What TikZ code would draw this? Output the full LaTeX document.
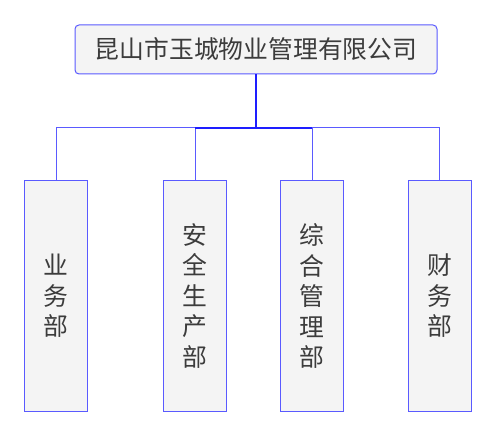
\documentclass[tikz,border=0pt]{standalone}
\usepackage{fontspec}
\setmainfont{Noto Sans CJK SC}
\definecolor{boxedge}{RGB}{90,90,255}
\definecolor{trunkblue}{RGB}{30,30,255}
\definecolor{boxfill}{RGB}{244,244,244}
\definecolor{boxtext}{RGB}{60,60,60}
\begin{document}
\begin{tikzpicture}[x=1pt,y=1pt,
    unit/.style={draw=boxedge,fill=boxfill,line width=1pt,text=boxtext,
        font=\fontsize{24.8}{30.5}\selectfont,inner sep=0pt},
    headbox/.style={unit,rounded corners=4pt,minimum width=362pt,minimum height=49pt},
    deptbox/.style={unit,align=center,minimum width=63pt,minimum height=231pt},
    branch/.style={draw=boxedge,line width=1pt},
    trunk/.style={draw=trunkblue,line width=1.3pt}]
\useasboundingbox (0,0) rectangle (498,437);

% The company
\node[headbox] (company) at (256,387.5) {昆山市玉城物业管理有限公司};

% The departments
\node[deptbox] (yewu) at (56,141) {业\\务\\部};
\node[deptbox] (anquan) at (195,141) {安\\全\\生\\产\\部};
\node[deptbox] (zonghe) at (312,141) {综\\合\\管\\理\\部};
\node[deptbox] (caiwu) at (439.5,141) {财\\务\\部};

% The connectors
\coordinate (junction) at (company.south |- 0,309);
\draw[branch] (junction) -| (yewu.north);
\draw[branch] (junction) -| (anquan.north);
\draw[branch] (junction) -| (zonghe.north);
\draw[branch] (junction) -| (caiwu.north);
\draw[trunk] (company.south) -- (junction);
\draw[trunk] (anquan.north |- junction) -- (zonghe.north |- junction);
\end{tikzpicture}
\end{document}
